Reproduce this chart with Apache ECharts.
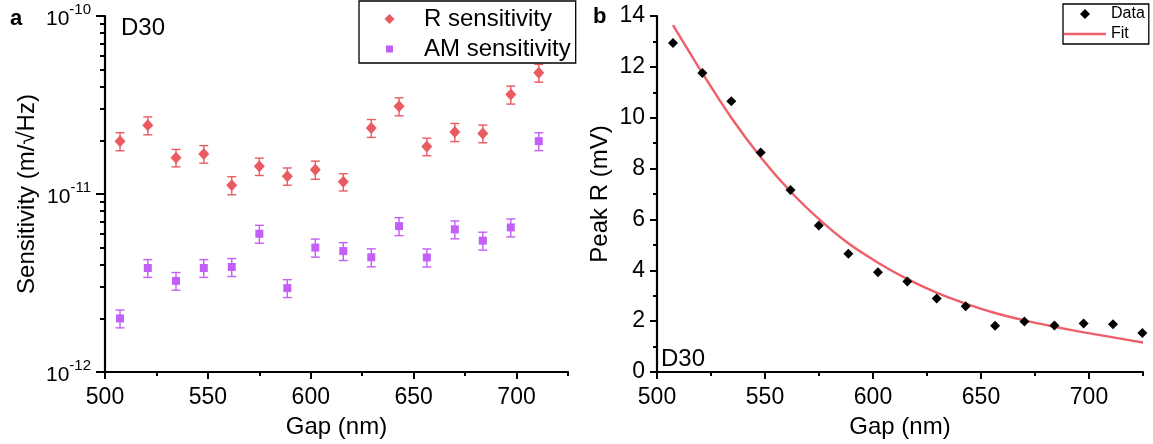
<!DOCTYPE html>
<html><head><meta charset="utf-8">
<script src="https://cdn.jsdelivr.net/npm/echarts@6/dist/echarts.min.js"></script>
<style>html,body{margin:0;padding:0;background:#fff}#c{width:1153px;height:444px}</style>
</head><body><div id="c"></div>
<script>
// ---- data (panel a) ----
const gapsA = [507.3, 520.8, 534.5, 548.0, 561.6, 575.0, 588.6, 602.2, 615.8, 629.4, 642.9, 656.4, 670.0, 683.6, 697.2, 710.8];
const rSens = [1.98e-11, 2.43e-11, 1.60e-11, 1.68e-11, 1.12e-11, 1.43e-11, 1.26e-11, 1.37e-11, 1.17e-11, 2.35e-11, 3.11e-11, 1.85e-11, 2.23e-11, 2.19e-11, 3.62e-11, 4.80e-11];
const rErr  = [0.23e-11, 0.28e-11, 0.18e-11, 0.19e-11, 0.13e-11, 0.16e-11, 0.14e-11, 0.16e-11, 0.13e-11, 0.27e-11, 0.36e-11, 0.21e-11, 0.26e-11, 0.25e-11, 0.42e-11, 0.55e-11];
const amSens = [2.00e-12, 3.84e-12, 3.25e-12, 3.84e-12, 3.89e-12, 5.98e-12, 2.96e-12, 5.00e-12, 4.78e-12, 4.41e-12, 6.60e-12, 4.40e-12, 6.33e-12, 5.47e-12, 6.49e-12, 1.98e-11];
const amErr  = [0.23e-12, 0.44e-12, 0.37e-12, 0.44e-12, 0.45e-12, 0.69e-12, 0.34e-12, 0.58e-12, 0.55e-12, 0.51e-12, 0.76e-12, 0.51e-12, 0.73e-12, 0.63e-12, 0.75e-12, 0.228e-11];
const logMajor = [1e-12, 1e-11, 1e-10];
const logMinor = [2e-12,3e-12,4e-12,5e-12,6e-12,7e-12,8e-12,9e-12,2e-11,3e-11,4e-11,5e-11,6e-11,7e-11,8e-11,9e-11];

// ---- data (panel b) ----
const gapsB = [507.4, 521.0, 534.4, 548.0, 561.8, 574.9, 588.6, 602.3, 615.9, 629.5, 642.9, 656.5, 670.1, 684.0, 697.5, 711.1, 724.7];
const peakR = [12.94, 11.76, 10.65, 8.63, 7.16, 5.76, 4.65, 3.92, 3.56, 2.89, 2.59, 1.82, 1.99, 1.83, 1.91, 1.88, 1.53];
const fitX = [507.4, 521.0, 534.4, 548.0, 561.8, 575.4, 588.7, 602.3, 615.8, 629.4, 642.9, 656.5, 670.2, 684.0, 697.6, 711.2, 725.0];
const fitY = [13.64, 11.75, 10.00, 8.45, 7.10, 5.98, 5.05, 4.30, 3.66, 3.12, 2.69, 2.32, 2.03, 1.78, 1.56, 1.36, 1.16];

const xMajor = [500, 550, 600, 650, 700];
const xMinor = [525, 575, 625, 675, 725];
const yMajorB = [0, 2, 4, 6, 8, 10, 12, 14];
const yMinorB = [1, 3, 5, 7, 9, 11, 13];

const FONT = "'Liberation Sans', Arial, sans-serif";
const RED = '#ea5a61';
const PURPLE = '#c35ef6';
const FITC = '#ef5f6a';

function errRender(color) {
  return function (params, api) {
    const x = api.value(0);
    const pLo = api.coord([x, api.value(1)]);
    const pHi = api.coord([x, api.value(2)]);
    const hw = 4.5;
    const st = { stroke: color, lineWidth: 1.4 };
    return { type: 'group', children: [
      { type: 'line', shape: { x1: pLo[0], y1: pLo[1], x2: pHi[0], y2: pHi[1] }, style: st },
      { type: 'line', shape: { x1: pLo[0]-hw, y1: pLo[1], x2: pLo[0]+hw, y2: pLo[1] }, style: st },
      { type: 'line', shape: { x1: pHi[0]-hw, y1: pHi[1], x2: pHi[0]+hw, y2: pHi[1] }, style: st }
    ]};
  };
}

const axisLine = { show: true, onZero: false, lineStyle: { color: '#000', width: 2.2 } };
const tickMaj = { show: true, inside: false, length: 7, lineStyle: { color: '#000', width: 2 } };
const tickMin = { show: true, inside: false, length: 4, lineStyle: { color: '#000', width: 2 } };

function xAxes(gi) {
  return [
    { type: 'value', gridIndex: gi, min: 500, max: 725, interval: 50, position: 'bottom',
      name: 'Gap (nm)', nameLocation: 'middle', nameGap: 43,
      nameTextStyle: { fontFamily: FONT, fontSize: 24, color: '#000' },
      axisLine: axisLine, axisTick: Object.assign({ customValues: xMajor }, tickMaj),
      axisLabel: { customValues: xMajor, margin: 14, fontFamily: FONT, fontSize: 23, color: '#000' },
      splitLine: { show: false } },
    { type: 'value', gridIndex: gi, min: 500, max: 725, interval: 25, position: 'bottom',
      axisLine: { show: false }, axisTick: Object.assign({ customValues: xMinor }, tickMin),
      axisLabel: { show: false }, splitLine: { show: false } }
  ];
}

const chart = echarts.init(document.getElementById('c'), null, { renderer: 'canvas' });

const option = {
  animation: false,
  backgroundColor: '#fff',
  textStyle: { fontFamily: FONT },
  grid: [
    { left: 105, top: 16, width: 463, height: 357 },
    { left: 657, top: 16, width: 486, height: 357 }
  ],
  xAxis: xAxes(0).concat(xAxes(1)),
  yAxis: [
    { type: 'log', logBase: 10, gridIndex: 0, min: 1e-12, max: 1e-10, position: 'left',
      name: 'Sensitivity (m/\u221AHz)', nameLocation: 'middle', nameGap: 66, nameRotate: 90,
      nameTextStyle: { fontFamily: FONT, fontSize: 24, color: '#000' },
      axisLine: axisLine, axisTick: Object.assign({ customValues: logMajor }, tickMaj, { length: 9 }),
      axisLabel: { customValues: logMajor, margin: 14, color: '#000',
        formatter: function (v) { return '{b|10}{s|' + Math.round(Math.log10(v)) + '}'; },
        rich: { b: { fontFamily: FONT, fontSize: 21, color: '#000', verticalAlign: 'bottom', lineHeight: 28 },
                s: { fontFamily: FONT, fontSize: 15, color: '#000', verticalAlign: 'top', lineHeight: 28 } } },
      splitLine: { show: false } },
    { type: 'log', logBase: 10, gridIndex: 0, min: 1e-12, max: 1e-10, position: 'left', offset: 0,
      axisLine: { show: false }, axisTick: Object.assign({ customValues: logMinor }, tickMin, { length: 5 }),
      axisLabel: { show: false }, splitLine: { show: false } },
    { type: 'value', gridIndex: 1, min: 0, max: 14, interval: 2, position: 'left',
      name: 'Peak R (mV)', nameLocation: 'middle', nameGap: 45, nameRotate: 90,
      nameTextStyle: { fontFamily: FONT, fontSize: 24, color: '#000' },
      axisLine: axisLine, axisTick: Object.assign({ customValues: yMajorB }, tickMaj),
      axisLabel: { customValues: yMajorB, margin: 12, fontFamily: FONT, fontSize: 23, color: '#000' },
      splitLine: { show: false } },
    { type: 'value', gridIndex: 1, min: 0, max: 14, interval: 1, position: 'left', offset: 0,
      axisLine: { show: false }, axisTick: Object.assign({ customValues: yMinorB }, tickMin),
      axisLabel: { show: false }, splitLine: { show: false } }
  ],
  legend: [
    { data: [ { name: 'R sensitivity', icon: 'path://M0,0M11,11M5.5,0.5L10.5,5.5L5.5,10.5L0.5,5.5Z' },
              { name: 'AM sensitivity', icon: 'path://M0,0M11,11M2,2L9,2L9,9L2,9Z' } ],
      orient: 'vertical', left: 359, top: 1, symbolKeepAspect: true,
      padding: [6, 5, 2, 25], itemWidth: 11, itemHeight: 11, itemGap: 6,
      borderColor: '#000', borderWidth: 1.3, backgroundColor: '#fff',
      textStyle: { fontFamily: FONT, fontSize: 24, color: '#000', padding: [0, 0, 0, 24] }, selectedMode: false },
    { data: [ { name: 'Data', icon: 'path://M0,0M10,10M5,0L10,5L5,10L0,5Z' },
              { name: 'Fit', icon: 'path://M0,0L42,0L42,2.4L0,2.4Z' } ],
      orient: 'vertical', left: 1063, top: 4, symbolKeepAspect: true,
      padding: [2, 4, 2, 1], itemWidth: 42, itemHeight: 10, itemGap: 4,
      borderColor: '#000', borderWidth: 1.3, backgroundColor: '#fff',
      textStyle: { fontFamily: FONT, fontSize: 16, color: '#000' }, selectedMode: false }
  ],
  graphic: [
    { type: 'text', left: 10, top: 8, style: { text: 'a', font: 'bold 22px ' + FONT, fill: '#000' } },
    { type: 'text', left: 593, top: 6, style: { text: 'b', font: 'bold 22px ' + FONT, fill: '#000' } },
    { type: 'text', left: 121, top: 16, style: { text: 'D30', font: '24px ' + FONT, fill: '#000' } },
    { type: 'text', left: 661, top: 347, style: { text: 'D30', font: '24px ' + FONT, fill: '#000' } }
  ],
  series: [
    { type: 'custom', name: 'R err', xAxisIndex: 0, yAxisIndex: 0, renderItem: errRender(RED), clip: false, z: 2,
      data: gapsA.map((g, i) => [g, rSens[i] - rErr[i], rSens[i] + rErr[i]]) },
    { type: 'custom', name: 'AM err', xAxisIndex: 0, yAxisIndex: 0, renderItem: errRender(PURPLE), clip: false, z: 2,
      data: gapsA.map((g, i) => [g, amSens[i] - amErr[i], amSens[i] + amErr[i]]) },
    { type: 'scatter', name: 'R sensitivity', xAxisIndex: 0, yAxisIndex: 0, symbol: 'diamond', symbolSize: [11, 12],
      itemStyle: { color: RED, opacity: 1 }, z: 3, data: gapsA.map((g, i) => [g, rSens[i]]) },
    { type: 'scatter', name: 'AM sensitivity', xAxisIndex: 0, yAxisIndex: 0, symbol: 'rect', symbolSize: 8,
      itemStyle: { color: PURPLE, opacity: 1 }, z: 3, data: gapsA.map((g, i) => [g, amSens[i]]) },
    { type: 'line', name: 'Fit', xAxisIndex: 2, yAxisIndex: 2, symbol: 'none', smooth: 0.2,
      lineStyle: { color: FITC, width: 2.4 }, itemStyle: { color: FITC }, z: 2,
      data: fitX.map((x, i) => [x, fitY[i]]) },
    { type: 'scatter', name: 'Data', xAxisIndex: 2, yAxisIndex: 2, symbol: 'diamond', symbolSize: [10, 10],
      itemStyle: { color: '#000', opacity: 1 }, z: 3, data: gapsB.map((g, i) => [g, peakR[i]]) }
  ]
};
chart.setOption(option);
</script>
</body></html>
